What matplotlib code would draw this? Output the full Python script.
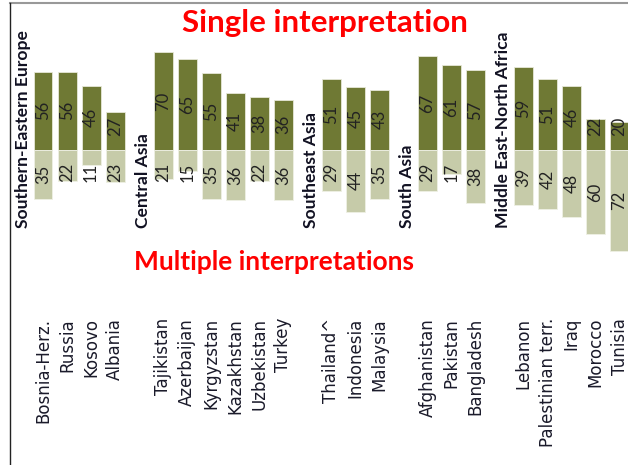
import matplotlib.pyplot as plt
from matplotlib.lines import Line2D
import numpy as np

# data
regions = ["Southern-Eastern Europe", "Central Asia", "Southeast Asia",
           "South Asia", "Middle East-North Africa"]
countries = [
    ["Bosnia-Herz.", "Russia", "Kosovo", "Albania"],
    ["Tajikistan", "Azerbaijan", "Kyrgyzstan", "Kazakhstan", "Uzbekistan", "Turkey"],
    ["Thailand^", "Indonesia", "Malaysia"],
    ["Afghanistan", "Pakistan", "Bangladesh"],
    ["Lebanon", "Palestinian terr.", "Iraq", "Morocco", "Tunisia"],
]
single = [56, 56, 46, 27, 70, 65, 55, 41, 38, 36, 51, 45, 43, 67, 61, 57, 59, 51, 46, 22, 20]
multiple = [35, 22, 11, 23, 21, 15, 35, 36, 22, 36, 29, 44, 35, 29, 17, 38, 39, 42, 48, 60, 72]

dark = '#6f7934'
light = '#c6cba9'

# slot positions, one empty slot between groups
pos = []
starts = []
p = 0
for i, grp in enumerate(countries):
    if i > 0:
        p += 1
    starts.append(p)
    for c in grp:
        pos.append(p)
        p += 1
pos = np.array(pos)
names = [c for grp in countries for c in grp]

fig = plt.figure(figsize=(6.28, 4.65), dpi=100)
ax = fig.add_axes([0, 0, 1, 1])
ax.bar(pos, single, width=0.79, color=dark, edgecolor='#e6e8d8', linewidth=0.6)
ax.bar(pos, [-m for m in multiple], width=0.79, color=light, edgecolor='#eef0e4', linewidth=0.6)
ax.set_xlim(-1.79, 24.35)
ax.set_ylim(-225, 107.1)
ax.axis('off')

for x, s, m, name in zip(pos, single, multiple, names):
    ax.text(x, max(s / 2, 17), str(s), rotation=90, ha='center', va='center',
            fontsize=12, family='Lato', color='#222222')
    ax.text(x, -max(m / 2, 16), str(m), rotation=90, ha='center', va='center',
            fontsize=12, family='Lato', color='#222222')
    ax.text(x, -120, name, rotation=90, ha='center', va='top',
            fontsize=12, family='DejaVu Sans', color='#1a1a2a')

for r, st in zip(regions, starts):
    ax.text(st - 0.85, -56, r, rotation=90, ha='center', va='bottom',
            fontsize=12.6, family='Lato', fontweight='bold', color='#111122')

fig.text(0.518, 0.951, 'Single interpretation', ha='center', va='center',
         fontsize=22.5, family='Lato', fontweight='bold', color='#ff0000')
fig.text(0.436, 0.437, 'Multiple interpretations', ha='center', va='center',
         fontsize=19, family='Lato', fontweight='bold', color='#ff0000')

# frame lines
fig.add_artist(Line2D([10 / 628, 1], [1 - 3 / 465, 1 - 3 / 465], color='#999999', linewidth=1.5))
fig.add_artist(Line2D([10 / 628, 10 / 628], [0, 1 - 3 / 465], color='#222222', linewidth=1))

plt.savefig('out.png', dpi=100)
plt.close()
